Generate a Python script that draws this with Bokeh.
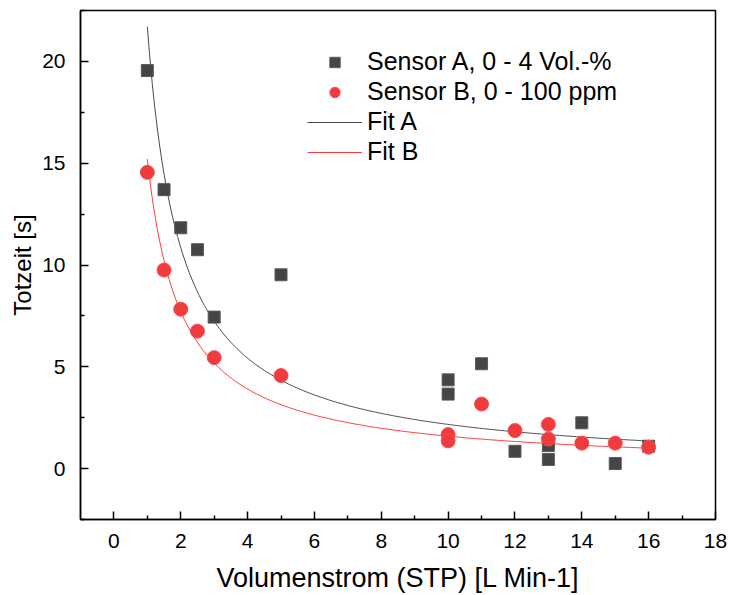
import numpy as np
from bokeh.plotting import figure
from bokeh.models import Range1d, Legend, LegendItem, FixedTicker
from bokeh.embed import file_html
from bokeh.resources import INLINE

# Sensor A data
a_x = [1, 1.5, 2, 2.5, 3, 5, 10, 10, 11, 12, 13, 13, 14, 15, 16]
a_y = [19.55, 13.7, 11.83, 10.75, 7.44, 9.52, 4.36, 3.66, 5.15, 0.85, 1.13, 0.45, 2.25, 0.25, 1.1]
# Sensor B data
b_x = [1, 1.5, 2, 2.5, 3, 5, 10, 10, 11, 12, 13, 13, 14, 15, 16]
b_y = [14.55, 9.75, 7.83, 6.75, 5.45, 4.57, 1.67, 1.36, 3.17, 1.87, 2.17, 1.45, 1.25, 1.25, 1.05]
# Fit parameters y = k * x^e
fit_a = (21.7, -1.0)
fit_b = (15.2, -0.98)
fit_range = (1.0, 16.0)

x_ticks = [0, 2, 4, 6, 8, 10, 12, 14, 16, 18]
y_ticks = [0, 5, 10, 15, 20]

p = figure(width=729, height=595, output_backend="svg", toolbar_location=None,
           x_range=Range1d(-1, 18), y_range=Range1d(-2.5, 22.5),
           min_border_left=80, min_border_right=14, min_border_top=10, min_border_bottom=75)
p.grid.visible = False
p.outline_line_color = "black"
p.outline_line_width = 1.5
p.background_fill_color = "white"
p.border_fill_color = "white"

for ax in (p.xaxis[0], p.yaxis[0]):
    ax.axis_line_width = 1.5
    ax.major_tick_in = 8
    ax.major_tick_out = 0
    ax.minor_tick_in = 4
    ax.minor_tick_out = 0
    ax.major_tick_line_width = 1.5
    ax.minor_tick_line_width = 1.5
    ax.major_label_text_font = "Liberation Sans"
    ax.major_label_text_font_size = "21px"
    ax.major_label_text_color = "black"
    ax.axis_label_text_font = "Liberation Sans"
    ax.axis_label_text_font_style = "normal"
    ax.axis_label_text_color = "black"

p.xaxis.axis_label_text_font_size = "27px"
p.yaxis.axis_label_text_font_size = "24px"
p.xaxis.ticker = FixedTicker(ticks=x_ticks, minor_ticks=[v + 1 for v in x_ticks[:-1]])
p.yaxis.ticker = FixedTicker(ticks=y_ticks, minor_ticks=[-2.5, 2.5, 7.5, 12.5, 17.5, 22.5])
p.xaxis.axis_label = "Volumenstrom (STP) [L Min-1]"
p.yaxis.axis_label = "Totzeit [s]"
p.xaxis.major_label_standoff = 14
p.yaxis.major_label_standoff = 15
p.xaxis.axis_label_standoff = 12
p.yaxis.axis_label_standoff = 3

xf = np.linspace(fit_range[0], fit_range[1], 300)
la = p.line(xf, fit_a[0] * xf ** fit_a[1], line_color="#4a4a4a", line_width=1)
lb = p.line(xf, fit_b[0] * xf ** fit_b[1], line_color="#ff3b3b", line_width=1)
sa = p.scatter(a_x, a_y, marker="square", size=12, fill_color="#454545", line_color="#5a5a5a", line_width=1)
sb = p.scatter(b_x, b_y, marker="circle", size=14, fill_color="#f03a3d", line_color="#f25054", line_width=1)

legend = Legend(items=[
    LegendItem(label="Sensor A, 0 - 4 Vol.-%", renderers=[sa]),
    LegendItem(label="Sensor B, 0 - 100 ppm", renderers=[sb]),
    LegendItem(label="Fit A", renderers=[la]),
    LegendItem(label="Fit B", renderers=[lb]),
], location=(227, 353))
legend.border_line_color = None
legend.background_fill_alpha = 0
legend.padding = 0
legend.margin = 0
legend.glyph_width = 55
legend.glyph_height = 26
legend.label_height = 26
legend.spacing = 1
legend.label_standoff = 5
legend.label_text_font = "Liberation Sans"
legend.label_text_font_size = "25px"
legend.label_text_color = "black"
p.add_layout(legend, "center")

open("out.html", "w").write(file_html(p, INLINE))
